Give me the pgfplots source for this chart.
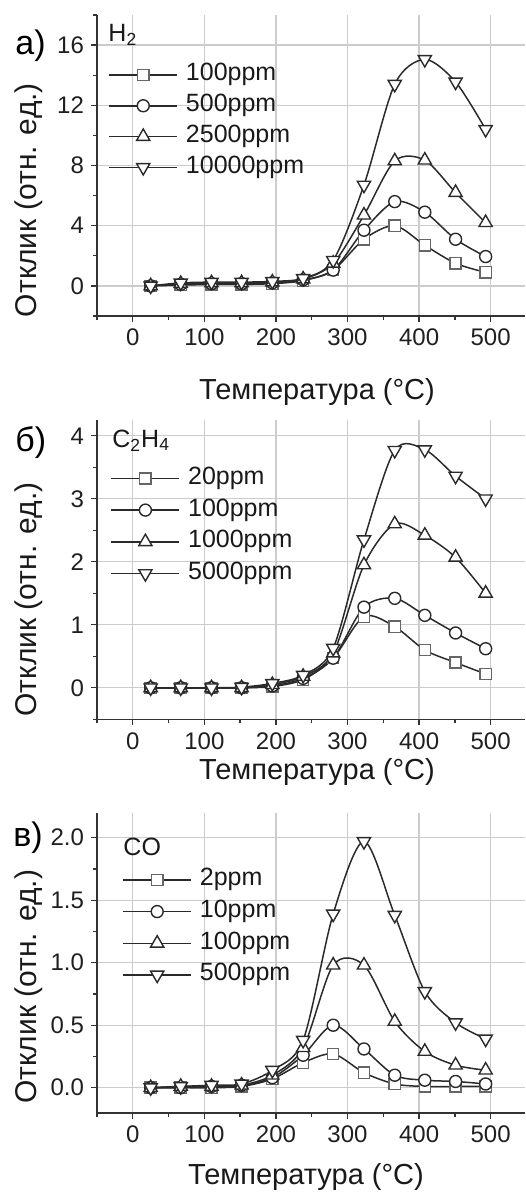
\documentclass[border=0pt]{standalone}
\usepackage{pgfplots}
\usepackage{pgfplotstable}
\pgfplotsset{compat=1.18}
\usepackage{fontspec}
\setmainfont{Liberation Sans}

\definecolor{curve}{HTML}{2A2A2A}
\definecolor{sqmark}{HTML}{666666}
\definecolor{gridc}{HTML}{CCCCCC}
\definecolor{spine}{HTML}{333333}

% Response vs temperature, columns: T, then one column per concentration
\pgfplotstableread{
T    s1    s2    s3    s4
25   0     0     0     0
67   0.05  0.10  0.15  0.20
110  0.10  0.15  0.20  0.25
152  0.10  0.15  0.20  0.25
195  0.15  0.20  0.25  0.30
238  0.35  0.40  0.45  0.50
280  1.05  1.05  1.50  1.70
323  3.10  3.70  4.70  6.70
366  4.00  5.60  8.30  13.40
408  2.70  4.90  8.35  15.05
451  1.50  3.10  6.20  13.55
493  0.90  1.95  4.20  10.40
}\dataHtwo

\pgfplotstableread{
T    s1    s2    s3    s4
25   0     0     0     0
67   0     0     0     0
110  0     0     0     0
152  0     0     0     0.01
195  0.02  0.03  0.05  0.07
238  0.13  0.15  0.18  0.20
280  0.47  0.47  0.55  0.63
323  1.13  1.28  1.95  2.35
366  0.97  1.42  2.60  3.77
408  0.60  1.15  2.42  3.78
451  0.40  0.87  2.07  3.36
493  0.22  0.62  1.50  3.00
}\dataCtwoHfour

\pgfplotstableread{
T    s1    s2    s3    s4
25   0     0     0     0
67   0     0     0.01  0.01
110  0     0.01  0.01  0.02
152  0.01  0.02  0.02  0.03
195  0.07  0.08  0.10  0.14
238  0.20  0.26  0.32  0.38
280  0.27  0.50  0.98  1.39
323  0.12  0.31  0.98  1.97
366  0.03  0.10  0.53  1.38
408  0.01  0.06  0.29  0.77
451  0.01  0.05  0.18  0.52
493  0.01  0.03  0.14  0.39
}\dataCO

\pgfplotsset{
  panel/.style={
    scale only axis, width=214pt,
    xmin=-50, xmax=548,
    axis lines*=left,
    axis line style={spine, line width=0.8pt},
    xtick={0,100,...,500},
    minor xtick={-50,50,150,250,350,450},
    grid=major,
    major grid style={gridc, line width=0.65pt},
    tick align=outside,
    major tick length=3pt, minor tick length=2pt,
    tick style={spine, line width=0.65pt},
    /pgf/number format/assume math mode=true,
    ticklabel style={font=\fontsize{12}{14}\selectfont, text=black!88},
    every axis y label/.style={xshift=-30.25pt, rotate=90, anchor=base,
      inner sep=0pt, font=\fontsize{15}{18}\selectfont, text=black!90},
    every axis x label/.style={anchor=north, inner sep=0pt,
      font=\fontsize{14.5}{17}\selectfont, text=black!90},
    ylabel={Отклик (отн. ед.)},
    xlabel={Температура (°C)},
    legend cell align=left,
    legend style={draw=none, fill=none, inner sep=0pt, anchor=north west,
      font=\fontsize{12.5}{15}\selectfont, text=black!90,
      nodes={inner sep=0pt, text height=9pt, text depth=3pt},
      /tikz/every odd column/.append style={column sep=4pt}},
    legend image code/.code={\draw[mark repeat=2,mark phase=2]
      plot coordinates {(0pt,0pt) (17pt,0pt) (34pt,0pt)};},
    every axis plot/.append style={smooth, curve, line width=0.75pt},
  },
  ser1/.style={mark=square*, mark size=2.8pt,
    mark options={solid, draw=sqmark, fill=white, line width=0.7pt}},
  ser2/.style={mark=*, mark size=3pt,
    mark options={solid, draw=curve, fill=white, line width=0.7pt}},
  ser3/.style={mark=triangle*, mark size=3.8pt,
    mark options={solid, draw=curve, fill=white, line width=0.7pt}},
  ser4/.style={mark=triangle*, mark size=3.8pt,
    mark options={solid, draw=curve, fill=white, line width=0.7pt, rotate=180}},
}

\begin{document}
\begin{tikzpicture}
\useasboundingbox (0pt,0pt) rectangle (262.5pt,-596.5pt);

% ---------- H2 ----------
\begin{axis}[panel,
  at={(48.5pt,-158pt)}, anchor=south west, height=150.5pt,
  ymin=-2, ymax=18,
  ytick={0,4,...,16}, minor ytick={-2,2,6,10,14,18},
  ylabel style={at={(axis description cs:0,0.385)}},
  xlabel style={at={(axis description cs:0.5,0)}, yshift=-31pt, xshift=3pt},
  legend style={at={(axis cs:-34.5,14.84)}, row sep=3.4pt},
]
\addplot[ser1] table[x=T, y=s1] {\dataHtwo}; \addlegendentry{100ppm}
\addplot[ser2] table[x=T, y=s2] {\dataHtwo}; \addlegendentry{500ppm}
\addplot[ser3] table[x=T, y=s3] {\dataHtwo}; \addlegendentry{2500ppm}
\addplot[ser4] table[x=T, y=s4] {\dataHtwo}; \addlegendentry{10000ppm}
\node[anchor=base west, inner sep=0pt, font=\fontsize{12.5}{15}\selectfont, text=black!90]
  at (axis cs:-34.5,16.24) {H\textsubscript{2}};
\end{axis}

% ---------- C2H4 ----------
\begin{axis}[panel,
  at={(48.5pt,-359.65pt)}, anchor=south west, height=149.65pt,
  ymin=-0.5, ymax=4.25,
  ytick={0,1,...,4}, minor ytick={-0.5,0.5,1.5,2.5,3.5},
  ylabel style={at={(axis description cs:0,0.40)}},
  xlabel style={at={(axis description cs:0.5,0)}, yshift=-19.4pt, xshift=3pt},
  legend style={at={(axis cs:-31.5,3.52)}, row sep=3.85pt},
]
\addplot[ser1] table[x=T, y=s1] {\dataCtwoHfour}; \addlegendentry{20ppm}
\addplot[ser2] table[x=T, y=s2] {\dataCtwoHfour}; \addlegendentry{100ppm}
\addplot[ser3] table[x=T, y=s3] {\dataCtwoHfour}; \addlegendentry{1000ppm}
\addplot[ser4] table[x=T, y=s4] {\dataCtwoHfour}; \addlegendentry{5000ppm}
\node[anchor=base west, inner sep=0pt, font=\fontsize{12.5}{15}\selectfont, text=black!90]
  at (axis cs:-29,3.82) {C\textsubscript{2}H\textsubscript{4}};
\end{axis}

% ---------- CO ----------
\begin{axis}[panel,
  at={(48.5pt,-556.35pt)}, anchor=south west, height=150pt,
  ymin=-0.2, ymax=2.2,
  ytick={0,0.5,...,2}, yticklabels={0.0,0.5,1.0,1.5,2.0},
  minor ytick={0.25,0.75,1.25,1.75},
  ylabel style={at={(axis description cs:0,0.43)}, xshift=-1.5pt},
  xlabel style={at={(axis description cs:0.5,0)}, yshift=-25pt, xshift=-2.5pt},
  legend style={at={(axis cs:-15,1.762)}, row sep=3.85pt},
]
\addplot[ser1] table[x=T, y=s1] {\dataCO}; \addlegendentry{2ppm}
\addplot[ser2] table[x=T, y=s2] {\dataCO}; \addlegendentry{10ppm}
\addplot[ser3] table[x=T, y=s3] {\dataCO}; \addlegendentry{100ppm}
\addplot[ser4] table[x=T, y=s4] {\dataCO}; \addlegendentry{500ppm}
\node[anchor=base west, inner sep=0pt, font=\fontsize{12.5}{15}\selectfont, text=black!90]
  at (axis cs:-13.6,1.86) {CO};
\end{axis}

% panel letters
\node[anchor=base west, inner sep=0pt, font=\fontsize{17}{20}\selectfont] at (7.5pt,-27.5pt) {а)};
\node[anchor=base west, inner sep=0pt, font=\fontsize{17}{20}\selectfont] at (7.5pt,-225.85pt) {б)};
\node[anchor=base west, inner sep=0pt, font=\fontsize{17}{20}\selectfont] at (6.5pt,-423.35pt) {в)};
\end{tikzpicture}
\end{document}
